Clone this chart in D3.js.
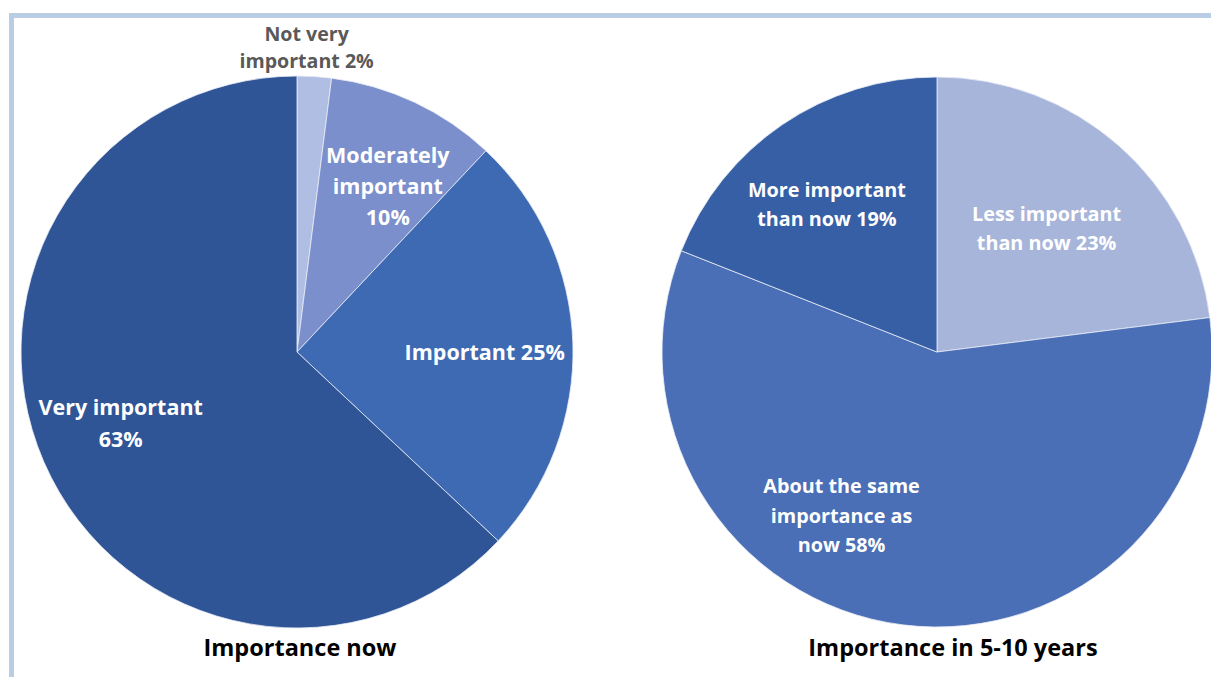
<!DOCTYPE html>
<html><head><meta charset="utf-8">
<script src="https://cdn.jsdelivr.net/npm/d3@7"></script>
<style>
html,body{margin:0;padding:0;background:#fff;overflow:hidden;}
text{font-family:"Open Sans","Noto Sans",sans-serif;font-weight:700;}
</style></head>
<body>
<svg id="chart" width="1211" height="677"></svg>
<script>
// ---- data ----
const nowCategories = ["Not very important", "Moderately important", "Important", "Very important"];
const nowValues = [2, 10, 25, 63];
const nowLabels = [["Not very", "important 2%"], ["Moderately", "important", "10%"], ["Important 25%"], ["Very important", "63%"]];
const futureCategories = ["Less important than now", "About the same importance as now", "More important than now"];
const futureValues = [23, 58, 19];
const futureLabels = [["Less important", "than now 23%"], ["About the same", "importance as", "now 58%"], ["More important", "than now 19%"]];
const chartTitles = ["Importance now", "Importance in 5-10 years"];

// ---- style / layout ----
const nowColors = ["#b1bee3", "#7a8fcb", "#3e6ab3", "#2f5597"];
const futureColors = ["#a8b5da", "#4a6fb6", "#365fa5"];
const nowLabelColors = ["#595959", "#fff", "#fff", "#fff"];
const futureLabelColors = ["#fff", "#fff", "#fff"];
// [radius factor, angle offset (deg), line height, font size]
const nowLabelPos = [[1.105, -1.8, 27, 19.6], [0.685, 3.5, 31, 21.5], [0.68, 1.8, 31, 21.5], [0.69, 1.2, 32, 21.5]];
const futureLabelPos = [[0.6, 0.2, 29, 19.8], [0.69, 23, 29.5, 19.8], [0.67, -2.5, 29, 19.8]];

const svg = d3.select("#chart");

// border
svg.append("rect").attr("x", 11.5).attr("y", 15.5).attr("width", 1300).attr("height", 800)
  .attr("fill", "none").attr("stroke", "#b9cde5").attr("stroke-width", 5);

function drawPie(cx, cy, r, values, colors, labels, labelColors, labelPos, title) {
  const g = svg.append("g").attr("transform", `translate(${cx},${cy})`);
  const pie = d3.pie().sort(null).value(d => d);
  const arcs = pie(values);
  const arc = d3.arc().innerRadius(0).outerRadius(r);
  g.selectAll("path.slice").data(arcs).join("path")
    .attr("class", "slice")
    .attr("d", arc)
    .attr("fill", (d, i) => colors[i])
    .attr("stroke", "#e8ecf6").attr("stroke-width", 0.8);
  arcs.forEach((d, i) => {
    const mid = (d.startAngle + d.endAngle) / 2 + labelPos[i][1] * Math.PI / 180;
    const rr = r * labelPos[i][0];
    const lineH = labelPos[i][2];
    const x = rr * Math.sin(mid), y = -rr * Math.cos(mid);
    const lines = labels[i];
    const t = g.append("text").attr("text-anchor", "middle")
      .attr("fill", labelColors[i]).style("font-size", labelPos[i][3] + "px");
    lines.forEach((ln, j) => {
      t.append("tspan").attr("x", x)
        .attr("y", y + (j - (lines.length - 1) / 2) * lineH)
        .attr("dy", "0.35em").text(ln);
    });
  });
  svg.append("text").attr("x", cx + (title.dx || 0)).attr("y", 648).attr("dy", "0.35em")
    .attr("text-anchor", "middle").attr("fill", "#000").style("font-size", "23.5px")
    .text(title.text);
}

drawPie(297, 352, 276, nowValues, nowColors, nowLabels, nowLabelColors, nowLabelPos, {text: chartTitles[0], dx: 3});
drawPie(937, 352, 275, futureValues, futureColors, futureLabels, futureLabelColors, futureLabelPos, {text: chartTitles[1], dx: 16});
</script>
</body></html>
